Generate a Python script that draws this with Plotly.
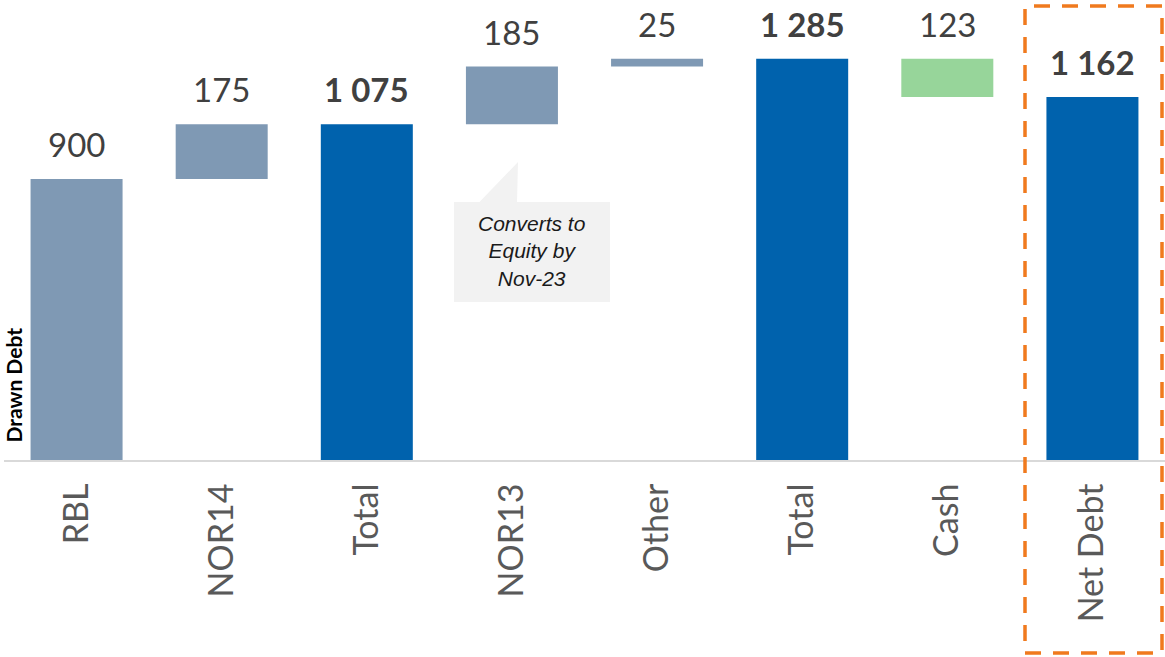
import plotly.graph_objects as go

# Debt bridge: drawn debt components, totals and net debt after cash
categories = ["RBL", "NOR14", "Total", "NOR13", "Other", "Total", "Cash", "Net Debt"]
measures = ["relative", "relative", "total", "relative", "relative", "total", "relative", "total"]
steps = [900, 175, 0, 185, 25, 0, -123, 0]
bold_labels = [False, False, True, False, False, True, False, True]
note_text = "Converts to<br>Equity by<br>Nov-23"

C_STEP = "#7F99B4"
C_TOTAL = "#0062AD"
C_CASH = "#97D59A"
C_LABEL = "#404040"
C_TICK = "#595959"
C_BOX = "#F07A1E"
C_NOTE = "#F2F2F2"

W, H = 1165, 657
ML, MR, MT, MB = 4, 0, 0, 197
Y_MAX = 1473

# running totals give each bar's top and the value shown above it
tops, shown = [], []
running = 0
for m, s in zip(measures, steps):
    if m == "total":
        tops.append(running)
        shown.append(running)
    else:
        prev = running
        running += s
        tops.append(max(prev, running))
        shown.append(abs(s))


def fmt(v):
    return f"{v:,}".replace(",", " ")


def px_x(p):
    return (p - ML) / (W - ML - MR)


def px_y(p):
    return (H - MB - p) / (H - MT - MB)


x_pos = list(range(len(categories)))

fig = go.Figure(
    go.Waterfall(
        x=x_pos,
        y=steps,
        measure=measures,
        width=[0.634] * len(categories),
        increasing=dict(marker=dict(color=C_STEP, line=dict(width=0))),
        decreasing=dict(marker=dict(color=C_CASH, line=dict(width=0))),
        totals=dict(marker=dict(color=C_TOTAL, line=dict(width=0))),
        connector=dict(visible=False),
        hoverinfo="skip",
    )
)

annotations = []
for xi, top, val, b in zip(x_pos, tops, shown, bold_labels):
    txt = fmt(val)
    annotations.append(
        dict(
            x=xi, y=top, xref="x", yref="y",
            text=f"<b>{txt}</b>" if b else txt,
            showarrow=False, yanchor="middle", yshift=35,
            font=dict(family="Lato, Open Sans, sans-serif", size=33, color=C_LABEL),
        )
    )

# vertical axis caption at the lower left
annotations.append(
    dict(
        x=px_x(13), y=px_y(445), xref="paper", yref="paper",
        text="<b>Drawn Debt</b>", textangle=-90, showarrow=False,
        xanchor="center", yanchor="bottom",
        font=dict(family="Lato, Open Sans, sans-serif", size=21, color="#000000"),
    )
)

# speech-bubble note under NOR13
annotations.append(
    dict(
        x=px_x(532), y=px_y(251), xref="paper", yref="paper",
        text=f"<i>{note_text}</i>", showarrow=False,
        xanchor="center", yanchor="middle",
        font=dict(family="Liberation Sans, Arial, sans-serif", size=21, color="#1A1A1A"),
    )
)

shapes = [
    dict(
        type="rect", xref="paper", yref="paper",
        x0=px_x(454), x1=px_x(610), y0=px_y(302), y1=px_y(202),
        fillcolor=C_NOTE, line=dict(width=0), layer="below",
    ),
    dict(
        type="path", xref="paper", yref="paper",
        path=(f"M {px_x(479)} {px_y(202.5)} L {px_x(517)} {px_y(202.5)} "
              f"L {px_x(518)} {px_y(162)} Z"),
        fillcolor=C_NOTE, line=dict(width=0), layer="below",
    ),
    # dashed frame highlighting net debt
    dict(
        type="rect", xref="paper", yref="paper",
        x0=px_x(1025), x1=px_x(1162), y0=px_y(653), y1=px_y(6),
        fillcolor="rgba(0,0,0,0)",
        line=dict(color=C_BOX, width=3.5, dash="16px,12px"),
    ),
]

fig.update_layout(
    width=W, height=H,
    margin=dict(l=ML, r=MR, t=MT, b=MB),
    paper_bgcolor="white", plot_bgcolor="white",
    showlegend=False,
    annotations=annotations,
    shapes=shapes,
    xaxis=dict(
        range=[-0.5, len(categories) - 0.5],
        tickmode="array", tickvals=x_pos, ticktext=categories,
        tickangle=-90, ticks="", ticklabelstandoff=8,
        tickfont=dict(family="Lato, Open Sans, sans-serif", size=34, color=C_TICK),
        showline=True, linecolor="#D9D9D9", linewidth=2,
        showgrid=False, zeroline=False, fixedrange=True,
    ),
    yaxis=dict(
        range=[0, Y_MAX], visible=False, showgrid=False, zeroline=False,
        fixedrange=True,
    ),
)

fig.write_html("out.html", config=dict(displayModeBar=False))
